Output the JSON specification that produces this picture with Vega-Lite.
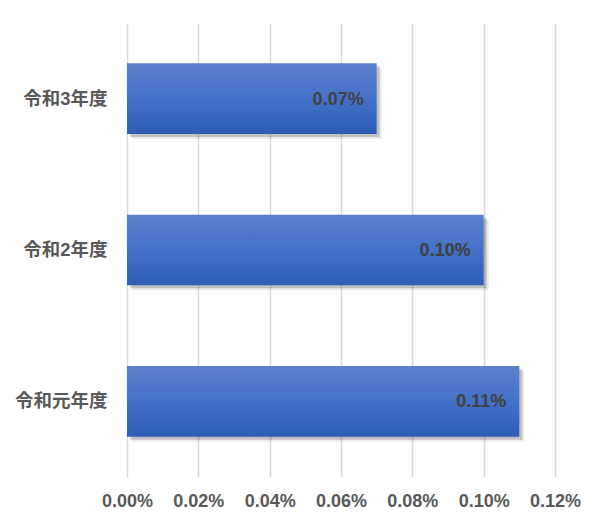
{
  "$schema": "https://vega.github.io/schema/vega-lite/v6.json",
  "autosize": {"type": "none"},
  "padding": {"left": 127, "top": 23, "right": 50, "bottom": 50},
  "width": 428,
  "height": 454,
  "background": "white",
  "data": {"values": [
    {"year": "令和3年度", "rate": 0.0007},
    {"year": "令和2年度", "rate": 0.0010},
    {"year": "令和元年度", "rate": 0.0011}
  ]},
  "config": {"view": {"stroke": null}},
  "encoding": {
    "y": {"field": "year", "type": "nominal", "sort": ["令和3年度", "令和2年度", "令和元年度"],
      "scale": {"paddingInner": 0.533, "paddingOuter": 0.266},
      "axis": {"title": null, "domain": false, "ticks": false, "labelPadding": 20,
        "labelFont": "Liberation Sans, Noto Sans CJK JP", "labelFontWeight": "bold", "labelFontSize": 18.5, "labelColor": "#595959"}},
    "x": {"field": "rate", "type": "quantitative",
      "scale": {"domain": [0, 0.0012], "nice": false},
      "axis": {"title": null, "domain": false, "ticks": false, "format": ".2%", "values": [0, 0.0002, 0.0004, 0.0006, 0.0008, 0.0010, 0.0012],
        "labelFlush": false, "labelOverlap": false, "labelBound": false,
        "labelPadding": 15, "labelFont": "Liberation Sans", "labelFontWeight": "bold", "labelFontSize": 18, "labelColor": "#595959",
        "gridColor": "#d9d9d9", "gridWidth": 1.5}}
  },
  "layer": [
    {"mark": {"type": "bar", "color": "#000000", "opacity": 0.18, "xOffset": 3, "yOffset": 3}},
    {"mark": {"type": "bar", "color": "#000000", "opacity": 0.08, "xOffset": 5, "yOffset": 5}},
    {"mark": {"type": "bar", "fill": {"gradient": "linear", "x1": 0, "y1": 0, "x2": 0, "y2": 1,
      "stops": [{"offset": 0, "color": "#5b81cd"}, {"offset": 0.5, "color": "#4471c8"}, {"offset": 1, "color": "#2e5db6"}]}}},
    {"mark": {"type": "text", "align": "right", "baseline": "middle", "dx": -13, "dy": 1, "font": "Liberation Sans", "fontWeight": "bold", "fontSize": 18, "color": "#404040"},
      "encoding": {"text": {"field": "rate", "type": "quantitative", "format": ".2%"}}}
  ]
}
